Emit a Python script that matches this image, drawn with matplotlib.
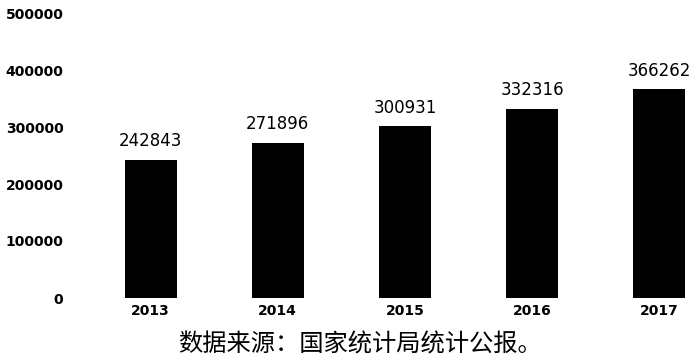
import matplotlib
matplotlib.use("Agg")
import matplotlib.pyplot as plt

years = ["2013", "2014", "2015", "2016", "2017"]
values = [242843, 271896, 300931, 332316, 366262]
yticks = [0, 100000, 200000, 300000, 400000, 500000]
caption = "数据来源：国家统计局统计公报。"

W, H = 691, 360
fig = plt.figure(figsize=(W / 100, H / 100), dpi=100)
left_px, right_px, top_px, bot_px = 87, 691, 13, 298
ax = fig.add_axes([left_px / W, (H - bot_px) / H, (right_px - left_px) / W, (bot_px - top_px) / H])

x = list(range(len(years)))
ax.bar(x, values, width=0.41, color="black")
spacing = 127.2
ax.set_xlim(-0.5, -0.5 + (right_px - left_px) / spacing)
ax.set_ylim(0, 500000)
ax.set_yticks(yticks)
ax.set_yticklabels([str(v) for v in yticks], fontsize=10, fontweight="bold", family="DejaVu Sans")
ax.tick_params(axis="y", length=0, pad=17)
ax.set_xticks(x)
ax.set_xticklabels(years, fontsize=10, fontweight="bold", family="DejaVu Sans")
ax.tick_params(axis="x", length=0, pad=4)
for s in ax.spines.values():
    s.set_visible(False)

for xi, v in zip(x, values):
    ax.annotate(str(v), (xi, v), xytext=(0, 7), textcoords="offset points",
                ha="center", va="bottom", fontsize=12, family="DejaVu Sans")

fig.text(360 / W, 1 - 345 / H, caption, ha="center", va="center", fontsize=17.5,
         family=["Noto Sans CJK SC", "DejaVu Sans"])

fig.savefig("out.png", dpi=100)
